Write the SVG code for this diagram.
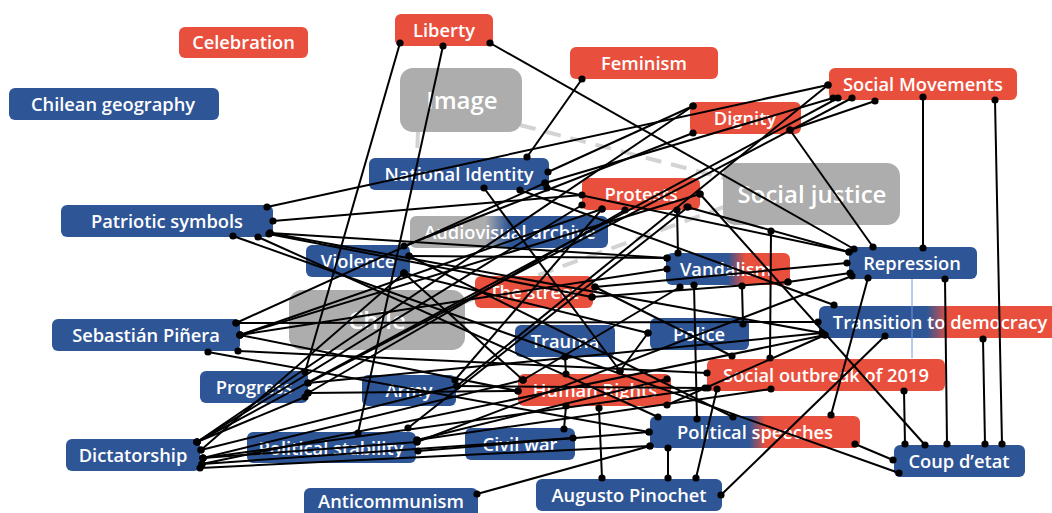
<svg xmlns="http://www.w3.org/2000/svg" width="1052" height="513" viewBox="0 0 1052 513">
<defs>
<style>
.n text{font-family:"Open Sans","Noto Sans","Liberation Sans",sans-serif;font-weight:600;font-size:18.3px;fill:#fff;text-anchor:middle}
.n text.big{font-size:24px}
.red{fill:#E94F3D}.blue{fill:#2E5596}.gray{fill:#ADADAD}
.e line{stroke:#000;stroke-width:2;marker-start:url(#dot);marker-end:url(#dot)}
.d line{stroke:#D3D3D3;stroke-width:4;stroke-dasharray:16 10}
</style>
<marker id="dot" markerWidth="8" markerHeight="8" refX="4" refY="4" markerUnits="userSpaceOnUse"><circle cx="4" cy="4" r="3.6" fill="#000"/></marker>
<linearGradient id="gAud" x1="0" x2="1" y1="0" y2="0"><stop offset="0.38" stop-color="#ADADAD"/><stop offset="0.5" stop-color="#2E5596"/></linearGradient>
<linearGradient id="gVan" x1="0" x2="1" y1="0" y2="0"><stop offset="0.5" stop-color="#2E5596"/><stop offset="0.64" stop-color="#E94F3D"/></linearGradient>
<linearGradient id="gTra" x1="0" x2="1" y1="0" y2="0"><stop offset="0.45" stop-color="#2E5596"/><stop offset="0.54" stop-color="#E94F3D"/></linearGradient>
<linearGradient id="gPol" x1="0" x2="1" y1="0" y2="0"><stop offset="0.47" stop-color="#2E5596"/><stop offset="0.55" stop-color="#E94F3D"/></linearGradient>
</defs>
<rect width="1052" height="513" fill="#fff"/>
<g id="dashed" class="d">
<line x1="520" y1="125" x2="724" y2="178"/>
<line x1="465" y1="302" x2="724" y2="207"/>
<line x1="418" y1="132" x2="417" y2="158"/>
</g>
<g id="nodes">
<g id="n-celebration" class="n"><rect class="red" x="179" y="27" width="129" height="31" rx="6"/><text x="243.5" y="49">Celebration</text></g>
<g id="n-chilean-geography" class="n"><rect class="blue" x="9" y="88" width="210" height="32" rx="6"/><text x="113" y="110.5">Chilean geography</text></g>
<g id="n-liberty" class="n"><rect class="red" x="395" y="14" width="98" height="32" rx="6"/><text x="444" y="36.5">Liberty</text></g>
<g id="n-feminism" class="n"><rect class="red" x="570" y="47" width="148" height="32" rx="6"/><text x="644" y="69.5">Feminism</text></g>
<g id="n-image" class="n"><rect class="gray" x="400" y="68" width="122" height="64" rx="13"/><text class="big" x="462" y="109">Image</text></g>
<g id="n-social-movements" class="n"><rect class="red" x="829" y="68" width="188" height="32" rx="6"/><text x="923" y="90.5">Social Movements</text></g>
<g id="n-dignity" class="n"><rect class="red" x="690" y="102" width="111" height="32" rx="6"/><text x="745" y="124.5">Dignity</text></g>
<g id="n-national-identity" class="n"><rect class="blue" x="369" y="158" width="180" height="32" rx="6"/><text x="459" y="180.5">National Identity</text></g>
<g id="n-social-justice" class="n"><rect class="gray" x="723" y="163" width="177" height="62" rx="13"/><text class="big" x="812" y="203">Social justice</text></g>
<g id="n-protests" class="n"><rect class="red" x="582" y="178" width="118" height="32" rx="6"/><text x="641" y="200.5">Protests</text></g>
<g id="n-patriotic-symbols" class="n"><rect class="blue" x="61" y="205" width="212" height="32" rx="6"/><text x="167" y="227.5">Patriotic symbols</text></g>
<g id="n-audiovisual-archive" class="n"><rect fill="url(#gAud)" x="410" y="216" width="198" height="32" rx="6"/><text x="510" y="238.5">Audiovisual archive</text></g>
<g id="n-violence" class="n"><rect class="blue" x="306" y="245" width="104" height="32" rx="6"/><text x="358" y="267.5">Violence</text></g>
<g id="n-repression" class="n"><rect class="blue" x="849" y="247" width="128" height="32" rx="6"/><text x="912" y="269.5">Repression</text></g>
<g id="n-vandalism" class="n"><rect fill="url(#gVan)" x="666" y="253" width="124" height="32" rx="6"/><text x="726" y="275.5">Vandalism</text></g>
<g id="n-the-street" class="n"><rect class="red" x="475" y="276" width="118" height="32" rx="6"/><text x="534" y="298.5">The street</text></g>
<g id="n-chile" class="n"><rect class="gray" x="289" y="290" width="176" height="60" rx="13"/><text class="big" x="377" y="329">Chile</text></g>
<g id="n-transition" class="n"><rect fill="url(#gTra)" x="819" y="306" width="240" height="32" rx="6"/><text x="940" y="328.5">Transition to democracy</text></g>
<g id="n-sebastian-pinera" class="n"><rect class="blue" x="52" y="319" width="188" height="32" rx="6"/><text x="146" y="341.5">Sebastián Piñera</text></g>
<g id="n-police" class="n"><rect class="blue" x="650" y="318" width="99" height="32" rx="6"/><text x="699" y="340.5">Police</text></g>
<g id="n-trauma" class="n"><rect class="blue" x="515" y="325" width="100" height="32" rx="6"/><text x="565" y="347.5">Trauma</text></g>
<g id="n-social-outbreak" class="n"><rect class="red" x="707" y="359" width="238" height="32" rx="6"/><text x="826" y="381.5">Social outbreak of 2019</text></g>
<g id="n-progress" class="n"><rect class="blue" x="200" y="371" width="108" height="32" rx="6"/><text x="254" y="393.5">Progress</text></g>
<g id="n-army" class="n"><rect class="blue" x="362" y="375" width="94" height="31" rx="6"/><text x="409" y="397">Army</text></g>
<g id="n-human-rights" class="n"><rect class="red" x="518" y="374" width="153" height="32" rx="6"/><text x="595" y="396.5">Human Rights</text></g>
<g id="n-political-speeches" class="n"><rect fill="url(#gPol)" x="650" y="416" width="210" height="32" rx="6"/><text x="755" y="438.5">Political speeches</text></g>
<g id="n-civil-war" class="n"><rect class="blue" x="465" y="428" width="110" height="32" rx="6"/><text x="520" y="450.5">Civil war</text></g>
<g id="n-political-stability" class="n"><rect class="blue" x="247" y="432" width="169" height="31" rx="6"/><text x="331" y="454.5">Political stability</text></g>
<g id="n-dictatorship" class="n"><rect class="blue" x="66" y="439" width="134" height="32" rx="6"/><text x="133" y="461.5">Dictatorship</text></g>
<g id="n-coup" class="n"><rect class="blue" x="894" y="445" width="131" height="32" rx="6"/><text x="959" y="467.5">Coup d’etat</text></g>
<g id="n-pinochet" class="n"><rect class="blue" x="536" y="479" width="186" height="32" rx="6"/><text x="629" y="501.5">Augusto Pinochet</text></g>
<g id="n-anticommunism" class="n"><rect class="blue" x="304" y="488" width="174" height="34" rx="6"/><text x="391" y="508">Anticommunism</text></g>
</g>
<g id="connectors" class="e">
<line x1="400" y1="43" x2="305" y2="372"/>
<line x1="443" y1="46" x2="358" y2="433"/>
<line x1="490" y1="43" x2="854" y2="249"/>
<line x1="582" y1="79" x2="527" y2="157"/>
<line x1="923" y1="97" x2="923" y2="248"/>
<line x1="995" y1="100" x2="1002" y2="444"/>
<line x1="828" y1="85" x2="267" y2="207"/>
<line x1="828" y1="85" x2="457" y2="386"/>
<line x1="833" y1="98" x2="545" y2="183"/>
<line x1="838" y1="98" x2="197" y2="442"/>
<line x1="852" y1="98" x2="308" y2="383"/>
<line x1="875" y1="101" x2="790" y2="130"/>
<line x1="548" y1="172" x2="693" y2="106"/>
<line x1="547" y1="188" x2="849" y2="252"/>
<line x1="484" y1="188" x2="620" y2="371"/>
<line x1="520" y1="190" x2="834" y2="305"/>
<line x1="693" y1="133" x2="404" y2="246"/>
<line x1="693" y1="106" x2="197" y2="442"/>
<line x1="790" y1="130" x2="873" y2="247"/>
<line x1="677" y1="210" x2="678" y2="253"/>
<line x1="582" y1="195" x2="273" y2="221"/>
<line x1="582" y1="205" x2="197" y2="442"/>
<line x1="687" y1="207" x2="849" y2="252"/>
<line x1="700" y1="194" x2="925" y2="445"/>
<line x1="688" y1="207" x2="408" y2="428"/>
<line x1="602" y1="209" x2="240" y2="335"/>
<line x1="625" y1="210" x2="308" y2="393"/>
<line x1="270" y1="233" x2="667" y2="258"/>
<line x1="270" y1="233" x2="822" y2="333"/>
<line x1="258" y1="237" x2="658" y2="417"/>
<line x1="233" y1="236" x2="899" y2="473"/>
<line x1="269" y1="234" x2="592" y2="297"/>
<line x1="404" y1="273" x2="523" y2="380"/>
<line x1="409" y1="256" x2="733" y2="417"/>
<line x1="404" y1="273" x2="201" y2="450"/>
<line x1="409" y1="256" x2="667" y2="258"/>
<line x1="236" y1="323" x2="818" y2="322"/>
<line x1="240" y1="335" x2="518" y2="391"/>
<line x1="208" y1="352" x2="649" y2="432"/>
<line x1="238" y1="351" x2="707" y2="373"/>
<line x1="236" y1="323" x2="545" y2="183"/>
<line x1="240" y1="335" x2="700" y2="194"/>
<line x1="308" y1="383" x2="822" y2="333"/>
<line x1="308" y1="393" x2="518" y2="391"/>
<line x1="305" y1="397" x2="197" y2="442"/>
<line x1="203" y1="458" x2="417" y2="442"/>
<line x1="202" y1="464" x2="573" y2="438"/>
<line x1="200" y1="468" x2="650" y2="446"/>
<line x1="201" y1="450" x2="457" y2="386"/>
<line x1="202" y1="464" x2="825" y2="335"/>
<line x1="203" y1="458" x2="523" y2="380"/>
<line x1="457" y1="386" x2="705" y2="388"/>
<line x1="455" y1="380" x2="602" y2="209"/>
<line x1="417" y1="440" x2="771" y2="389"/>
<line x1="418" y1="451" x2="649" y2="432"/>
<line x1="417" y1="440" x2="667" y2="379"/>
<line x1="620" y1="371" x2="648" y2="333"/>
<line x1="667" y1="405" x2="825" y2="335"/>
<line x1="732" y1="356" x2="595" y2="287"/>
<line x1="708" y1="388" x2="203" y2="458"/>
<line x1="648" y1="333" x2="404" y2="273"/>
<line x1="945" y1="279" x2="947" y2="444"/>
<line x1="868" y1="278" x2="831" y2="415"/>
<line x1="847" y1="263" x2="595" y2="287"/>
<line x1="850" y1="273" x2="788" y2="282"/>
<line x1="852" y1="276" x2="417" y2="442"/>
<line x1="983" y1="339" x2="985" y2="444"/>
<line x1="885" y1="336" x2="721" y2="495"/>
<line x1="694" y1="285" x2="697" y2="419"/>
<line x1="742" y1="286" x2="743" y2="324"/>
<line x1="680" y1="287" x2="523" y2="380"/>
<line x1="667" y1="269" x2="240" y2="335"/>
<line x1="788" y1="282" x2="592" y2="297"/>
<line x1="771" y1="231" x2="770" y2="358"/>
<line x1="855" y1="444" x2="893" y2="460"/>
<line x1="477" y1="494" x2="650" y2="446"/>
<line x1="565" y1="357" x2="566" y2="374"/>
<line x1="566" y1="406" x2="564" y2="429"/>
<line x1="599" y1="408" x2="602" y2="478"/>
<line x1="668" y1="448" x2="668" y2="478"/>
<line x1="696" y1="478" x2="717" y2="389"/>
<line x1="904" y1="391" x2="905" y2="444"/>
</g>
<g id="artifact"><line x1="912" y1="279" x2="912" y2="358" stroke="#6F98DC" stroke-width="1"/></g>
</svg>
